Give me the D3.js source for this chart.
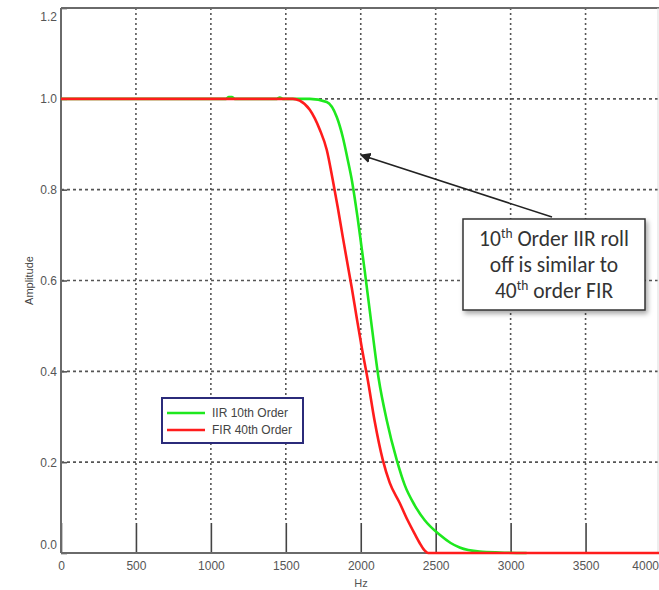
<!DOCTYPE html>
<html>
<head>
<meta charset="utf-8">
<script src="https://cdn.jsdelivr.net/npm/d3@7"></script>
<style>
  html, body { margin: 0; padding: 0; background: #fff; }
  svg { display: block; }
</style>
</head>
<body>
<svg id="chart" width="659" height="590"></svg>
<script>
// Frequency response of two low-pass filters (amplitude vs. Hz)
const xTicks = [0, 500, 1000, 1500, 2000, 2500, 3000, 3500, 4000];
const yTicks = [0.0, 0.2, 0.4, 0.6, 0.8, 1.0, 1.2];

// IIR 10th order response
const iirHz  = [0, 1100, 1120, 1140, 1160, 1440, 1460, 1480, 1660, 1773, 1840, 1880, 1913, 1940, 1980, 2027, 2073, 2120, 2173, 2240, 2293, 2360, 2427, 2527, 2600, 2660, 2793, 2927, 3107];
const iirAmp = [1.0, 1.0, 1.004, 1.004, 1.0, 1.0, 1.003, 1.0, 1.0, 0.993, 0.96, 0.916, 0.866, 0.822, 0.736, 0.62, 0.5, 0.383, 0.293, 0.205, 0.15, 0.105, 0.072, 0.04, 0.022, 0.012, 0.003, 0.001, 0.0];

// FIR 40th order response
const firHz  = [0, 1500, 1547, 1593, 1660, 1727, 1773, 1813, 1847, 1880, 1913, 1940, 1973, 2007, 2047, 2093, 2147, 2193, 2260, 2313, 2360, 2393, 2420, 2450, 4000];
const firAmp = [1.0, 1.0, 1.0, 0.996, 0.976, 0.932, 0.888, 0.822, 0.76, 0.696, 0.634, 0.584, 0.518, 0.452, 0.381, 0.29, 0.205, 0.155, 0.11, 0.072, 0.042, 0.022, 0.008, 0.0, 0.0];

const seriesNames = ["IIR 10th Order", "FIR 40th Order"];
const seriesColors = ["#1ee81e", "#ff1c1c"];

const svg = d3.select("#chart");
const x = d3.scaleLinear().domain([0, 4000]).range([61, 660.5]);
const y = d3.scaleLinear().domain([0, 1.2]).range([553, 8]);

const axisColor = "#6a6a6a";
const labelColor = "#555";
const font = "'Liberation Sans', Arial, sans-serif";

// Dotted grid
svg.append("g").selectAll("line").data(xTicks.slice(1, -1)).join("line")
  .attr("x1", d => x(d)).attr("x2", d => x(d))
  .attr("y1", y(1.2)).attr("y2", y(0) - 30)
  .attr("stroke", "#555").attr("stroke-width", 1.6)
  .attr("stroke-dasharray", "2,3");
svg.append("g").selectAll("line").data(yTicks.slice(1, -1)).join("line")
  .attr("x1", x(0)).attr("x2", 659)
  .attr("y1", d => y(d)).attr("y2", d => y(d))
  .attr("stroke", "#555").attr("stroke-width", 1.6)
  .attr("stroke-dasharray", "3,3");

// Bottom axis with long inward ticks
const xAxis = d3.axisBottom(x).tickValues(xTicks).tickSize(-30).tickPadding(8).tickFormat(d3.format("d"));
const gx = svg.append("g").attr("transform", `translate(0,${y(0)})`).call(xAxis);
gx.select(".domain").remove();
gx.selectAll(".tick line").attr("stroke", "#444").attr("stroke-width", 1.6);
gx.selectAll(".tick text").attr("fill", labelColor).attr("font-family", font).attr("font-size", 12)
  .attr("text-anchor", d => d === 4000 ? "end" : "middle")
  .attr("x", d => d === 4000 ? -2 : 0);

// Left axis with short inward ticks
const yAxis = d3.axisLeft(y).tickValues(yTicks).tickSize(-6).tickPadding(4).tickFormat(d3.format(".1f"));
const gy = svg.append("g").attr("transform", `translate(${x(0)},0)`).call(yAxis);
gy.select(".domain").remove();
gy.selectAll(".tick line").attr("stroke", "#555").attr("stroke-width", 1.6);
gy.selectAll(".tick text").attr("fill", labelColor).attr("font-family", font).attr("font-size", 12)
  .attr("dy", d => d === 0 ? "-0.4em" : d === 1.2 ? "1.0em" : "0.32em");

// Frame
svg.append("line").attr("x1", x(0)).attr("x2", x(0)).attr("y1", y(1.2)).attr("y2", y(0))
  .attr("stroke", axisColor).attr("stroke-width", 2);
svg.append("line").attr("x1", x(0)).attr("x2", 659).attr("y1", y(0)).attr("y2", y(0))
  .attr("stroke", axisColor).attr("stroke-width", 2);
svg.append("line").attr("x1", x(0)).attr("x2", 659).attr("y1", y(1.2)).attr("y2", y(1.2))
  .attr("stroke", axisColor).attr("stroke-width", 2);
svg.append("line").attr("x1", 658).attr("x2", 658).attr("y1", y(1.2)).attr("y2", y(0))
  .attr("stroke", "#ddd").attr("stroke-width", 1);

// Axis titles
svg.append("text").attr("x", 361).attr("y", 587).attr("text-anchor", "middle")
  .attr("fill", labelColor).attr("font-family", font).attr("font-size", 11).text("Hz");
svg.append("text").attr("transform", `translate(33,${y(0.6)}) rotate(-90)`).attr("text-anchor", "middle")
  .attr("fill", "#444").attr("font-family", font).attr("font-size", 11).text("Amplitude");

// Response curves (FIR drawn over IIR)
const line = d3.line().x(d => x(d[0])).y(d => y(d[1])).curve(d3.curveMonotoneX);
const iirPts = iirHz.map((h, i) => [h, iirAmp[i]]);
const firPts = firHz.map((h, i) => [h, firAmp[i]]);
svg.append("path").datum(iirPts).attr("d", line).attr("fill", "none")
  .attr("stroke", seriesColors[0]).attr("stroke-width", 2.6);
svg.append("path").datum(firPts).attr("d", line).attr("fill", "none")
  .attr("stroke", seriesColors[1]).attr("stroke-width", 2.6);

// Legend
const lg = svg.append("g");
lg.append("rect").attr("x", 162).attr("y", 398).attr("width", 141).attr("height", 45)
  .attr("fill", "#fff").attr("stroke", "#2b2b7a").attr("stroke-width", 2);
seriesNames.forEach((name, i) => {
  const yy = 413 + i * 17;
  lg.append("line").attr("x1", 167).attr("x2", 205).attr("y1", yy).attr("y2", yy)
    .attr("stroke", seriesColors[i]).attr("stroke-width", 2.6);
  lg.append("text").attr("x", 212).attr("y", yy + 4).attr("fill", "#444")
    .attr("font-family", font).attr("font-size", 12).text(name);
});

// Annotation: callout box and arrow
const defs = svg.append("defs");
defs.append("marker").attr("id", "arrowhead").attr("viewBox", "0 0 10 10")
  .attr("refX", 9).attr("refY", 5).attr("markerWidth", 7).attr("markerHeight", 7)
  .attr("orient", "auto-start-reverse")
  .append("path").attr("d", "M0,0 L10,5 L0,10 z").attr("fill", "#222");
const shadow = defs.append("filter").attr("id", "shadow").attr("x", "-10%").attr("y", "-10%")
  .attr("width", "130%").attr("height", "140%");
shadow.append("feDropShadow").attr("dx", 2).attr("dy", 3).attr("stdDeviation", 2.5)
  .attr("flood-color", "#000").attr("flood-opacity", 0.35);

svg.append("line").attr("x1", 552).attr("y1", 217).attr("x2", 361).attr("y2", 155)
  .attr("stroke", "#222").attr("stroke-width", 1.5).attr("marker-end", "url(#arrowhead)");

svg.append("rect").attr("x", 463).attr("y", 219).attr("width", 182).attr("height", 91)
  .attr("fill", "#fff").attr("stroke", "#333").attr("stroke-width", 1.5)
  .attr("filter", "url(#shadow)");

const calloutFont = "Carlito, Lato, 'Open Sans', sans-serif";
const callout = [
  [["10", false], ["th", true], [" Order IIR roll", false]],
  [["off is similar to", false]],
  [["40", false], ["th", true], [" order FIR", false]]
];
callout.forEach((parts, i) => {
  const t = svg.append("text").attr("x", 554).attr("y", 246 + i * 26)
    .attr("text-anchor", "middle").attr("fill", "#333")
    .attr("font-family", calloutFont).attr("font-size", 21.5);
  parts.forEach(([s, sup]) => {
    const ts = t.append("tspan").text(s);
    if (sup) ts.attr("font-size", 13.5).attr("dy", -8);
    else if (t.selectAll("tspan").size() > 1) ts.attr("dy", 8);
  });
});
</script>
</body>
</html>
